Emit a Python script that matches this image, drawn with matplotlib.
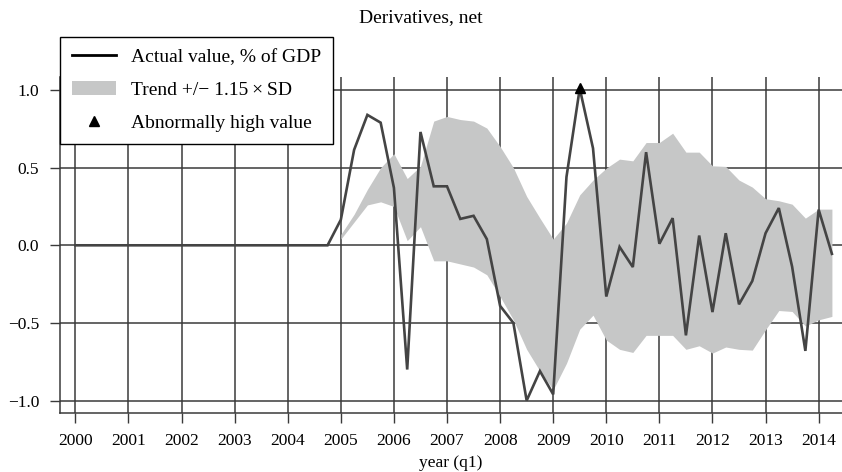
import numpy as np
import matplotlib
matplotlib.use("Agg")
import matplotlib.pyplot as plt
from matplotlib.lines import Line2D
from matplotlib.patches import Patch

plt.rcParams['font.family'] = ['Liberation Serif', 'DejaVu Serif']
plt.rcParams['font.size'] = 12.5

# Quarterly data, 2000q1 .. 2014q2
start_year = 2000
n_zero = 20  # 2000q1..2004q4 are zero
actual_nonzero = [0.165, 0.615, 0.84, 0.79, 0.37, -0.80, 0.73, 0.38,
                  0.38, 0.17, 0.19, 0.04, -0.39, -0.50, -1.00, -0.81,
                  -0.96, 0.44, 1.01, 0.625, -0.33, -0.01, -0.14, 0.60,
                  0.01, 0.175, -0.58, 0.063, -0.43, 0.078, -0.38, -0.23,
                  0.078, 0.24, -0.137, -0.68, 0.23, -0.055]
band_upper = [0.07, 0.20, 0.36, 0.50, 0.59, 0.43, 0.51, 0.80,
              0.83, 0.81, 0.80, 0.755, 0.636, 0.50, 0.315, 0.175,
              0.04, 0.143, 0.325, 0.42, 0.497, 0.555, 0.544, 0.662,
              0.662, 0.722, 0.60, 0.60, 0.512, 0.508, 0.42, 0.375,
              0.30, 0.287, 0.265, 0.175, 0.233, 0.233]
band_lower = [0.04, 0.15, 0.26, 0.28, 0.25, 0.03, 0.12, -0.10,
              -0.10, -0.12, -0.14, -0.19, -0.33, -0.48, -0.67, -0.81,
              -0.93, -0.76, -0.54, -0.45, -0.61, -0.67, -0.69, -0.58,
              -0.58, -0.58, -0.67, -0.647, -0.694, -0.655, -0.67, -0.675,
              -0.544, -0.42, -0.426, -0.52, -0.48, -0.458]
abnormal_t = [2009.5]
abnormal_v = [1.01]
year_ticks = list(range(2000, 2015))
year_labels = [str(y) for y in year_ticks]
y_ticks = [-1.0, -0.5, 0.0, 0.5, 1.0]
y_labels = ['\u22121.0', '\u22120.5', '0.0', '0.5', '1.0']

actual = [0.0] * n_zero + actual_nonzero
t_all = start_year + np.arange(len(actual)) * 0.25
t_band = t_all[n_zero:]

fig = plt.figure(figsize=(8.42, 4.72), dpi=100)
ax = fig.add_axes([60/842, 1 - 413/472, 1 - 60/842, (413 - 77)/472])

grid_c = '#3a3a3a'
for y in y_ticks:
    ax.axhline(y, color=grid_c, lw=1.1, zorder=1)
for x in year_ticks:
    ax.axvline(x, color=grid_c, lw=1.1, zorder=1)

ax.fill_between(t_band, band_lower, band_upper, color='#c6c7c7', lw=0, zorder=2)
ax.plot(t_all, actual, color='#444444', lw=1.9, zorder=3, solid_joinstyle='miter')
ax.plot(abnormal_t, abnormal_v, marker='^', ls='none', color='black', ms=7, zorder=4)

ax.set_xlim(1999.71, 2014.44)
ax.set_ylim(-1.08, 1.084)
ax.set_xticks(year_ticks)
ax.set_xticklabels(year_labels)
ax.set_yticks(y_ticks)
ax.set_yticklabels(y_labels)
ax.tick_params(axis='x', direction='out', length=7, width=1, pad=7.5, color=grid_c)
ax.tick_params(axis='y', direction='out', length=7, width=1, pad=8, color=grid_c)
for s in ['top', 'right']:
    ax.spines[s].set_visible(False)
for s in ['left', 'bottom']:
    ax.spines[s].set_color(grid_c)
    ax.spines[s].set_linewidth(1.1)

ax.set_xlabel('year (q1)', labelpad=4, fontsize=12.5)
fig.text(0.5, 1 - 18/472, 'Derivatives, net', ha='center', va='center', fontsize=14)

handles = [Line2D([], [], color='black', lw=2),
           Patch(facecolor='#c6c7c7', edgecolor='none'),
           Line2D([], [], marker='^', ls='none', color='black', ms=7)]
labels = ['Actual value, % of GDP', 'Trend +/\u2212 1.15\u2009\u00d7\u2009SD', 'Abnormally high value']
leg = ax.legend(handles, labels, loc='upper left', bbox_to_anchor=(0, 1.119),
                borderaxespad=0, frameon=True, fancybox=False, framealpha=1,
                edgecolor='black', handlelength=2.3, handletextpad=0.75,
                labelspacing=0.78, borderpad=0.6, fontsize=14)
leg.get_frame().set_linewidth(1.0)
leg.set_zorder(10)

fig.savefig('out.png', dpi=100)
